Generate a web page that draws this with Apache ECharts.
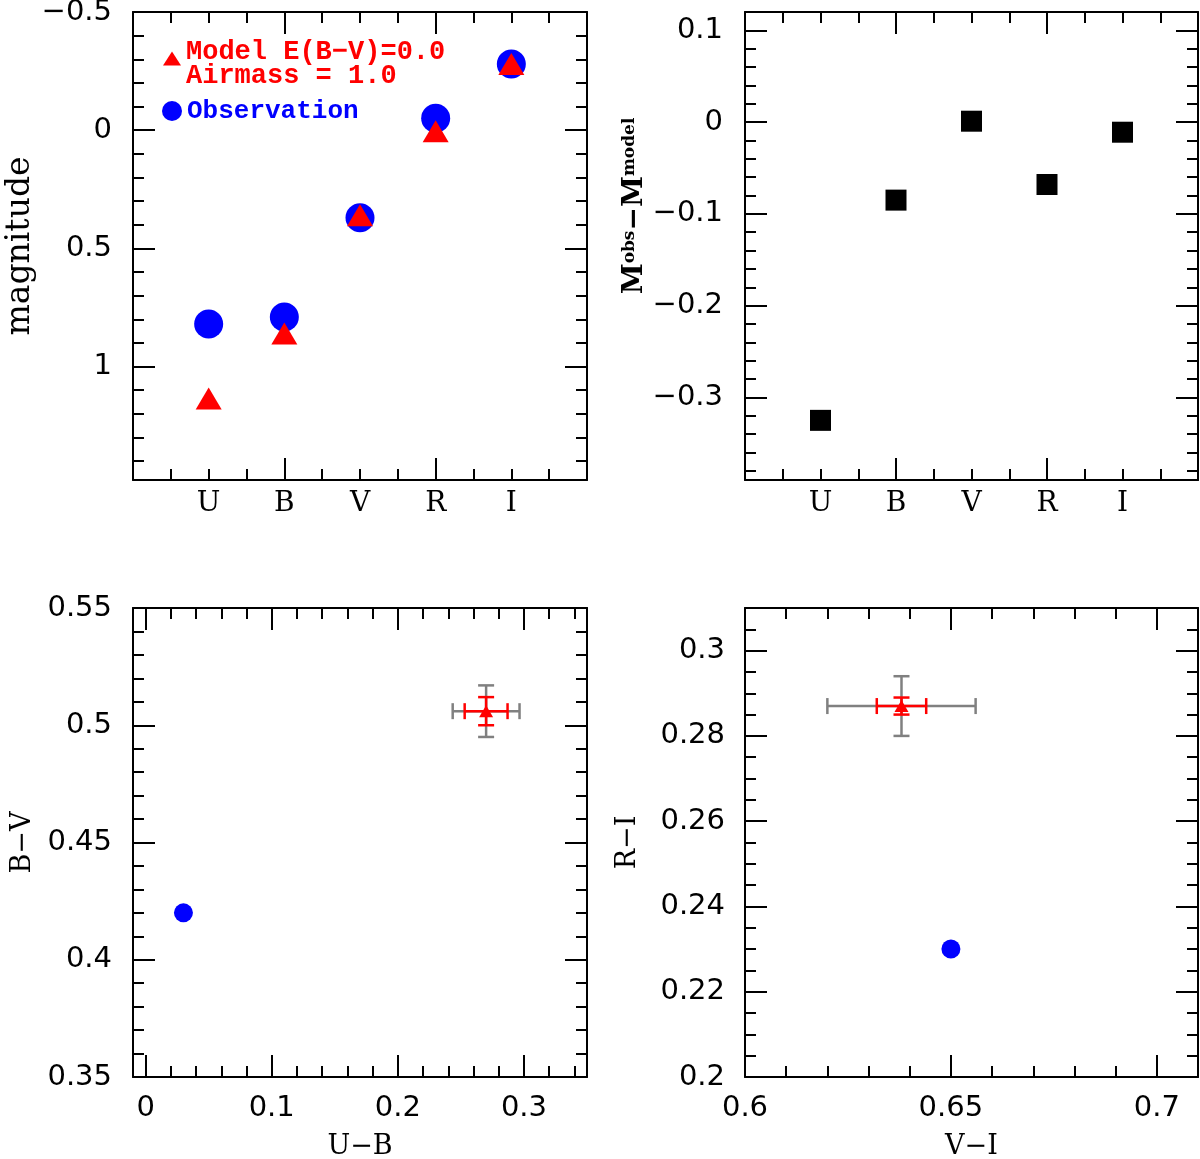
<!DOCTYPE html>
<html><head><meta charset="utf-8">
<script src="https://cdn.jsdelivr.net/npm/echarts@6/dist/echarts.min.js"></script>
<style>html,body{margin:0;padding:0;background:#fff}#c{width:1200px;height:1159px}</style>
</head><body><div id="c"></div>
<script>
// ---------- data ----------
const bands = ['U', 'B', 'V', 'R', 'I'];
const obsMag = [0.82, 0.79, 0.37, -0.05, -0.28];
const modelMag = [1.135, 0.86, 0.36, 0.005, -0.28];
const diffMag = [-0.325, -0.085, 0.001, -0.068, -0.011];

const obsUBBV = [[0.03, 0.42]];
const modelUBBV = [[0.27, 0.506]];
const errUBBVred = [[0.27, 0.506, 0.017, 0.006]];     // x, y, xerr, yerr
const errUBBVgray = [[0.27, 0.506, 0.0265, 0.011]];

const obsVIRI = [[0.65, 0.23]];
const modelVIRI = [[0.638, 0.287]];
const errVIRIred = [[0.638, 0.287, 0.006, 0.002]];
const errVIRIgray = [[0.638, 0.287, 0.018, 0.007]];

// tick labels
const magLabels = [-0.5, 0, 0.5, 1];
const diffLabels = [-0.3, -0.2, -0.1, 0, 0.1];
const ubLabels = [0, 0.1, 0.2, 0.3];
const bvLabels = [0.35, 0.4, 0.45, 0.5, 0.55];
const viLabels = [0.6, 0.65, 0.7];
const riLabels = [0.2, 0.22, 0.24, 0.26, 0.28, 0.3];
const bandPos = [1, 2, 3, 4, 5];

// ---------- helpers ----------
function steps(a, b, s) { const o = []; const n = Math.round((b - a) / s); for (let i = 0; i <= n; i++) o.push(+(a + i * s).toFixed(6)); return o; }
function without(list, rem) { return list.filter(v => !rem.some(m => Math.abs(m - v) < 1e-9)); }
const numFmt = v => String(+(+v).toFixed(4)).replace('-', '\u2212');

const FN = 'DejaVu Sans', FS = 'DejaVu Serif';
const xAxes = [], yAxes = [];

function addAxes(list, g, dim, c) {
  const pos = dim === 'x' ? ['bottom', 'top'] : ['left', 'right'];
  const base = { type: 'value', gridIndex: g, min: c.min, max: c.max, inverse: !!c.inverse, splitLine: { show: false }, nameMoveOverlap: false };
  const idx = list.length;
  [0, 1].forEach(side => {
    // major
    list.push(Object.assign({}, base, {
      position: pos[side],
      axisLine: { show: true, onZero: false, lineStyle: { color: '#000', width: 2 } },
      axisTick: { show: true, inside: true, length: 22, customValues: c.major, lineStyle: { color: '#000', width: 2 } },
      axisLabel: side === 0 ? { show: true, customValues: c.labels, margin: c.margin, formatter: c.fmt || numFmt,
        fontFamily: c.labelFont || FN, fontSize: c.labelSize || 29, color: '#000' } : { show: false },
      name: side === 0 ? c.name : '', nameLocation: 'middle', nameGap: c.nameGap, nameRotate: dim === 'y' ? 90 : 0,
      nameTextStyle: c.nameStyle || { fontFamily: FS, fontSize: 27, color: '#000' }
    }));
    // minor
    list.push(Object.assign({}, base, {
      position: pos[side],
      axisLine: { show: false, onZero: false },
      axisTick: { show: true, inside: true, length: 11, customValues: c.minor, lineStyle: { color: '#000', width: 2 } },
      axisLabel: { show: false }
    }));
  });
  return idx;
}

// ---------- axes ----------
const p1x = addAxes(xAxes, 0, 'x', { min: 0, max: 6, major: [2, 4], minor: without(steps(0.5, 5.5, 0.5), [2, 4]), labels: bandPos,
  fmt: v => bands[Math.round(v) - 1], labelFont: FS, labelSize: 28, margin: 10 });
const p1y = addAxes(yAxes, 0, 'y', { min: -0.5, max: 1.48, inverse: true, major: [0, 0.5, 1], minor: without(steps(-0.4, 1.4, 0.1), magLabels),
  labels: magLabels, margin: 21, name: 'magnitude', nameGap: 96, nameStyle: { fontFamily: FS, fontSize: 33, color: '#000' } });
const p2x = addAxes(xAxes, 1, 'x', { min: 0, max: 6, major: [2, 4], minor: without(steps(0.5, 5.5, 0.5), [2, 4]), labels: bandPos,
  fmt: v => bands[Math.round(v) - 1], labelFont: FS, labelSize: 28, margin: 10 });
const p2y = addAxes(yAxes, 1, 'y', { min: -0.39, max: 0.12, major: diffLabels, minor: without(steps(-0.38, 0.1, 0.02), diffLabels),
  labels: diffLabels, margin: 22, name: '{m|M}{s|obs}{m|\u2212M}{s|model}', nameGap: 96,
  nameStyle: { padding: [0, 0, 0, 80], rich: {
    m: { fontFamily: FS, fontWeight: 'bold', fontSize: 28, color: '#000' },
    s: { fontFamily: FS, fontWeight: 'bold', fontSize: 17, color: '#000', verticalAlign: 'top' } } } });
const p3x = addAxes(xAxes, 2, 'x', { min: -0.01, max: 0.35, major: ubLabels, minor: without(steps(0.02, 0.34, 0.02), ubLabels),
  labels: ubLabels, margin: 17, name: 'U\u2212B', nameGap: 56 });
const p3y = addAxes(yAxes, 2, 'y', { min: 0.35, max: 0.55, major: [0.4, 0.45, 0.5], minor: without(steps(0.36, 0.54, 0.01), bvLabels),
  labels: bvLabels, margin: 21, name: 'B\u2212V', nameGap: 97 });
const p4x = addAxes(xAxes, 3, 'x', { min: 0.6, max: 0.71, major: [0.65, 0.7], minor: without(steps(0.61, 0.70, 0.01), viLabels),
  labels: viLabels, margin: 17, name: 'V\u2212I', nameGap: 56 });
const p4y = addAxes(yAxes, 3, 'y', { min: 0.2, max: 0.31, major: [0.22, 0.24, 0.26, 0.28, 0.3], minor: without(steps(0.205, 0.305, 0.005), riLabels),
  labels: riLabels, margin: 20, name: 'R\u2212I', nameGap: 104 });

// ---------- error bars ----------
function errBars(color, cap) {
  return function (params, api) {
    const x = api.value(0), y = api.value(1), ex = api.value(2), ey = api.value(3);
    const c = api.coord([x, y]);
    const l = api.coord([x - ex, y])[0], r = api.coord([x + ex, y])[0];
    const t = api.coord([x, y + ey])[1], b = api.coord([x, y - ey])[1];
    const st = { stroke: color, lineWidth: 2.5 };
    const h = cap / 2;
    const L = (x1, y1, x2, y2) => ({ type: 'line', shape: { x1, y1, x2, y2 }, style: st });
    return { type: 'group', children: [
      L(l, c[1], r, c[1]), L(l, c[1] - h, l, c[1] + h), L(r, c[1] - h, r, c[1] + h),
      L(c[0], t, c[0], b), L(c[0] - h, t, c[0] + h, t), L(c[0] - h, b, c[0] + h, b)
    ] };
  };
}

const RED = '#ff0000', BLUE = '#0000ff', GRAY = '#808080';

const series = [
  { name: 'Observation', type: 'scatter', xAxisIndex: p1x, yAxisIndex: p1y, symbol: 'circle', symbolSize: 29,
    itemStyle: { color: BLUE, opacity: 1 }, data: bands.map((b, i) => [i + 1, obsMag[i]]), z: 3 },
  { name: 'Model', type: 'scatter', xAxisIndex: p1x, yAxisIndex: p1y, symbol: 'triangle', symbolSize: [26, 22],
    itemStyle: { color: RED, opacity: 1 }, data: bands.map((b, i) => [i + 1, modelMag[i]]), z: 4 },
  { name: 'Obs \u2212 Model', type: 'scatter', xAxisIndex: p2x, yAxisIndex: p2y, symbol: 'rect', symbolSize: 21,
    itemStyle: { color: '#000', opacity: 1 }, data: bands.map((b, i) => [i + 1, diffMag[i]]) },

  { name: 'err1g', type: 'custom', xAxisIndex: p3x, yAxisIndex: p3y, renderItem: errBars(GRAY, 16), data: errUBBVgray, encode: { x: 0, y: 1 }, z: 2 },
  { name: 'err1r', type: 'custom', xAxisIndex: p3x, yAxisIndex: p3y, renderItem: errBars(RED, 16), data: errUBBVred, encode: { x: 0, y: 1 }, z: 3 },
  { name: 'Obs UB', type: 'scatter', xAxisIndex: p3x, yAxisIndex: p3y, symbol: 'circle', symbolSize: 19,
    itemStyle: { color: BLUE, opacity: 1 }, data: obsUBBV },
  { name: 'Model UB', type: 'scatter', xAxisIndex: p3x, yAxisIndex: p3y, symbol: 'triangle', symbolSize: [14, 12],
    itemStyle: { color: RED, opacity: 1 }, data: modelUBBV, z: 4 },

  { name: 'err2g', type: 'custom', xAxisIndex: p4x, yAxisIndex: p4y, renderItem: errBars(GRAY, 16), data: errVIRIgray, encode: { x: 0, y: 1 }, z: 2 },
  { name: 'err2r', type: 'custom', xAxisIndex: p4x, yAxisIndex: p4y, renderItem: errBars(RED, 16), data: errVIRIred, encode: { x: 0, y: 1 }, z: 3 },
  { name: 'Obs VI', type: 'scatter', xAxisIndex: p4x, yAxisIndex: p4y, symbol: 'circle', symbolSize: 19,
    itemStyle: { color: BLUE, opacity: 1 }, data: obsVIRI },
  { name: 'Model VI', type: 'scatter', xAxisIndex: p4x, yAxisIndex: p4y, symbol: 'triangle', symbolSize: [14, 12],
    itemStyle: { color: RED, opacity: 1 }, data: modelVIRI, z: 4 }
];

const legendFont = { fontFamily: 'Liberation Mono', fontWeight: 'bold', fontSize: 27, lineHeight: 24 };

const chart = echarts.init(document.getElementById('c'));
chart.setOption({
  animation: false,
  backgroundColor: '#fff',
  grid: [
    { left: 133, top: 12, width: 454, height: 468, outerBoundsMode: 'none' },
    { left: 745, top: 12, width: 453, height: 468, outerBoundsMode: 'none' },
    { left: 133, top: 608, width: 454, height: 469, outerBoundsMode: 'none' },
    { left: 745, top: 608, width: 453, height: 469, outerBoundsMode: 'none' }
  ],
  legend: [
    { data: ['Model'], left: 163, top: 34, padding: 0, itemWidth: 18, itemHeight: 14, selectedMode: false,
      formatter: () => '{p| }\n{a|Model E(B\u2212V)=0.0}\n{a|Airmass = 1.0}',
      textStyle: { color: RED, rich: {
        p: { fontSize: 1, lineHeight: 11 },
        a: Object.assign({ color: RED }, legendFont) } } },
    { data: ['Observation'], left: 162, top: 98, padding: 0, itemWidth: 20, itemHeight: 20, selectedMode: false,
      textStyle: { fontFamily: 'Liberation Mono', fontWeight: 'bold', fontSize: 26, color: BLUE } }
  ],
  xAxis: xAxes,
  yAxis: yAxes,
  series: series
});
</script></body></html>
